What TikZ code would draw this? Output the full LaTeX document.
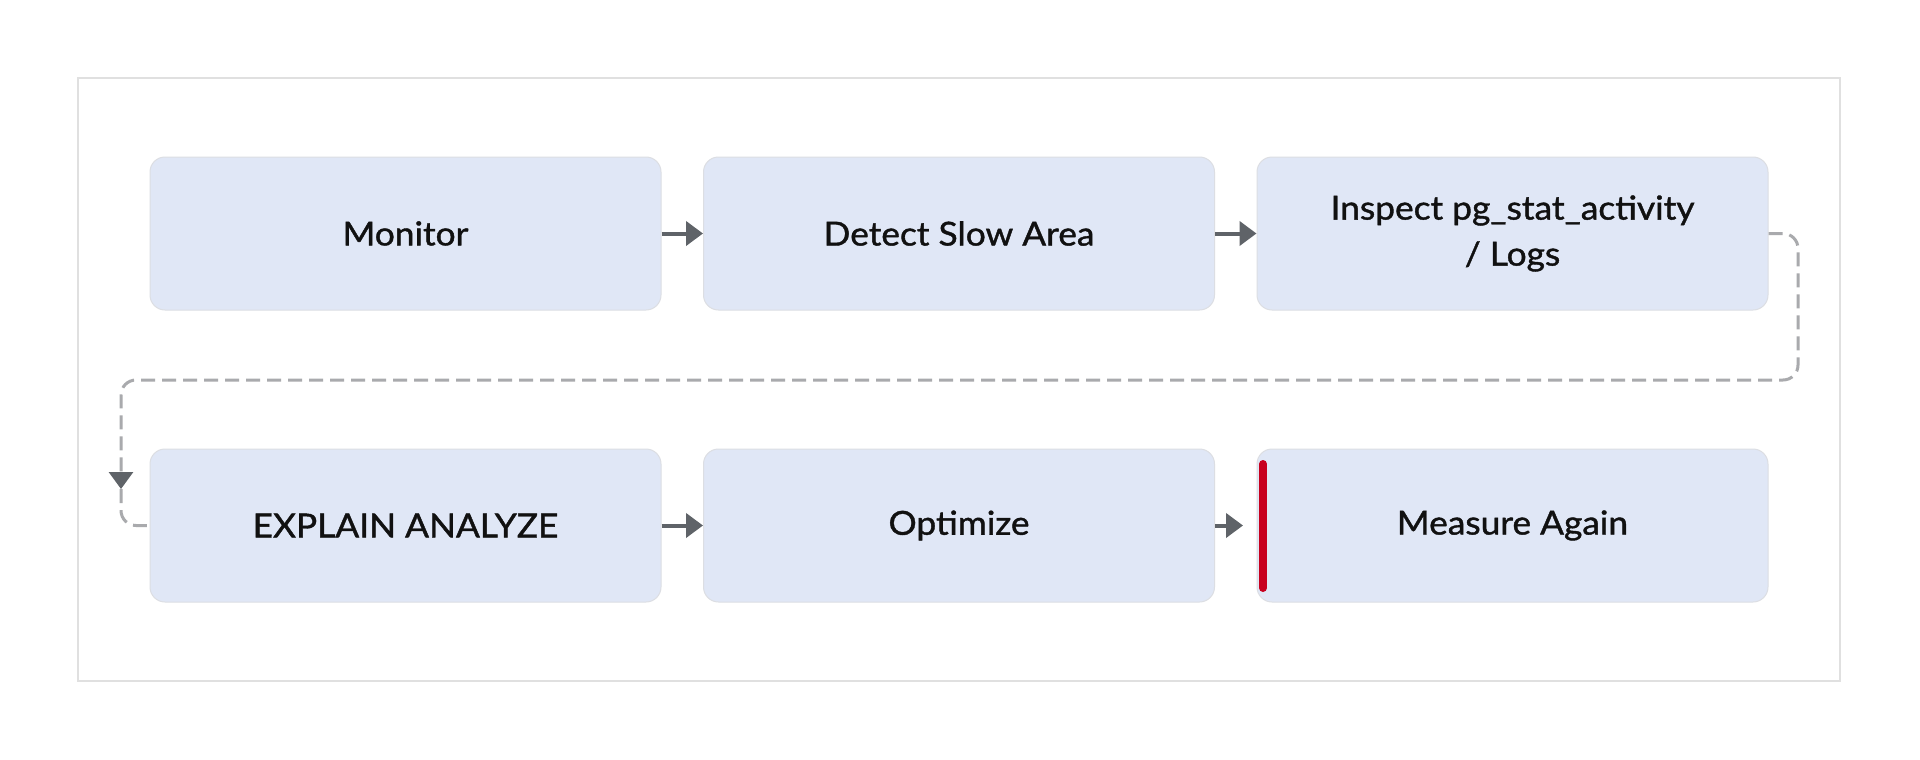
\documentclass[tikz,border=0pt]{standalone}
\usepackage{fontspec}
\setmainfont{Lato}[FakeBold=1.2,FakeStretch=1.07]
\usetikzlibrary{arrows.meta}
\definecolor{boxfill}{HTML}{E0E7F6}
\definecolor{boxline}{HTML}{DCDEE3}
\definecolor{framecol}{HTML}{E0E0E0}
\definecolor{arrowgray}{HTML}{5F6368}
\definecolor{dashgray}{HTML}{A9AAAD}
\definecolor{barred}{HTML}{C8001E}
\definecolor{textcol}{HTML}{111111}
\tikzset{
  stepbox/.style={draw=boxline, line width=1pt, fill=boxfill, rounded corners=15pt,
    minimum width=511pt, minimum height=153pt, inner sep=0pt, align=center,
    text=textcol, font=\fontsize{33}{46}\selectfont},
  flow/.style={draw=arrowgray, line width=4pt,
    -{Triangle[length=17pt,width=24pt,color=arrowgray]}},
  loopline/.style={draw=dashgray, line width=3pt, dash pattern=on 14pt off 7pt,
    rounded corners=15pt},
  looptip/.style={-{Triangle[length=17pt,width=24pt,color=arrowgray]}},
}
\begin{document}
\begin{tikzpicture}[x=1pt,y=-1pt]
\useasboundingbox (0,0) rectangle (1920,760);
\fill[white] (0,0) rectangle (1920,760);
\draw[framecol, line width=2pt] (78,78) rectangle (1840,681);

\node[stepbox] (mo) at (405.5,233.5) {Monitor};
\node[stepbox] (de) at (959,233.5) {Detect Slow Area};
\node[stepbox] (in) at (1512.5,233.5) {Inspect pg\_stat\_activity\\/ Logs};
\node[stepbox] (ex) at (405.5,525.5) {EXPLAIN ANALYZE};
\node[stepbox] (op) at (959,525.5) {Optimize};
\node[stepbox] (ma) at (1512.5,525.5) {Measure Again};

\draw[flow] (mo.east) -- (de.west);
\draw[flow] (de.east) -- (in.west);
\draw[flow] (ex.east) -- (op.west);
\draw[flow] (op.east) -- (1243,525.5);

\coordinate (c1) at (1798,380);
\coordinate (c2) at (121,380);
\coordinate (ah) at (121,489);
\draw[loopline, looptip] (in.east) -| (c1) -- (c2) -- (ah);
\draw[loopline] (ah) |- (ex.west);

\draw[barred, line width=8pt, line cap=round] (1263,464) -- (1263,588);
\end{tikzpicture}
\end{document}
